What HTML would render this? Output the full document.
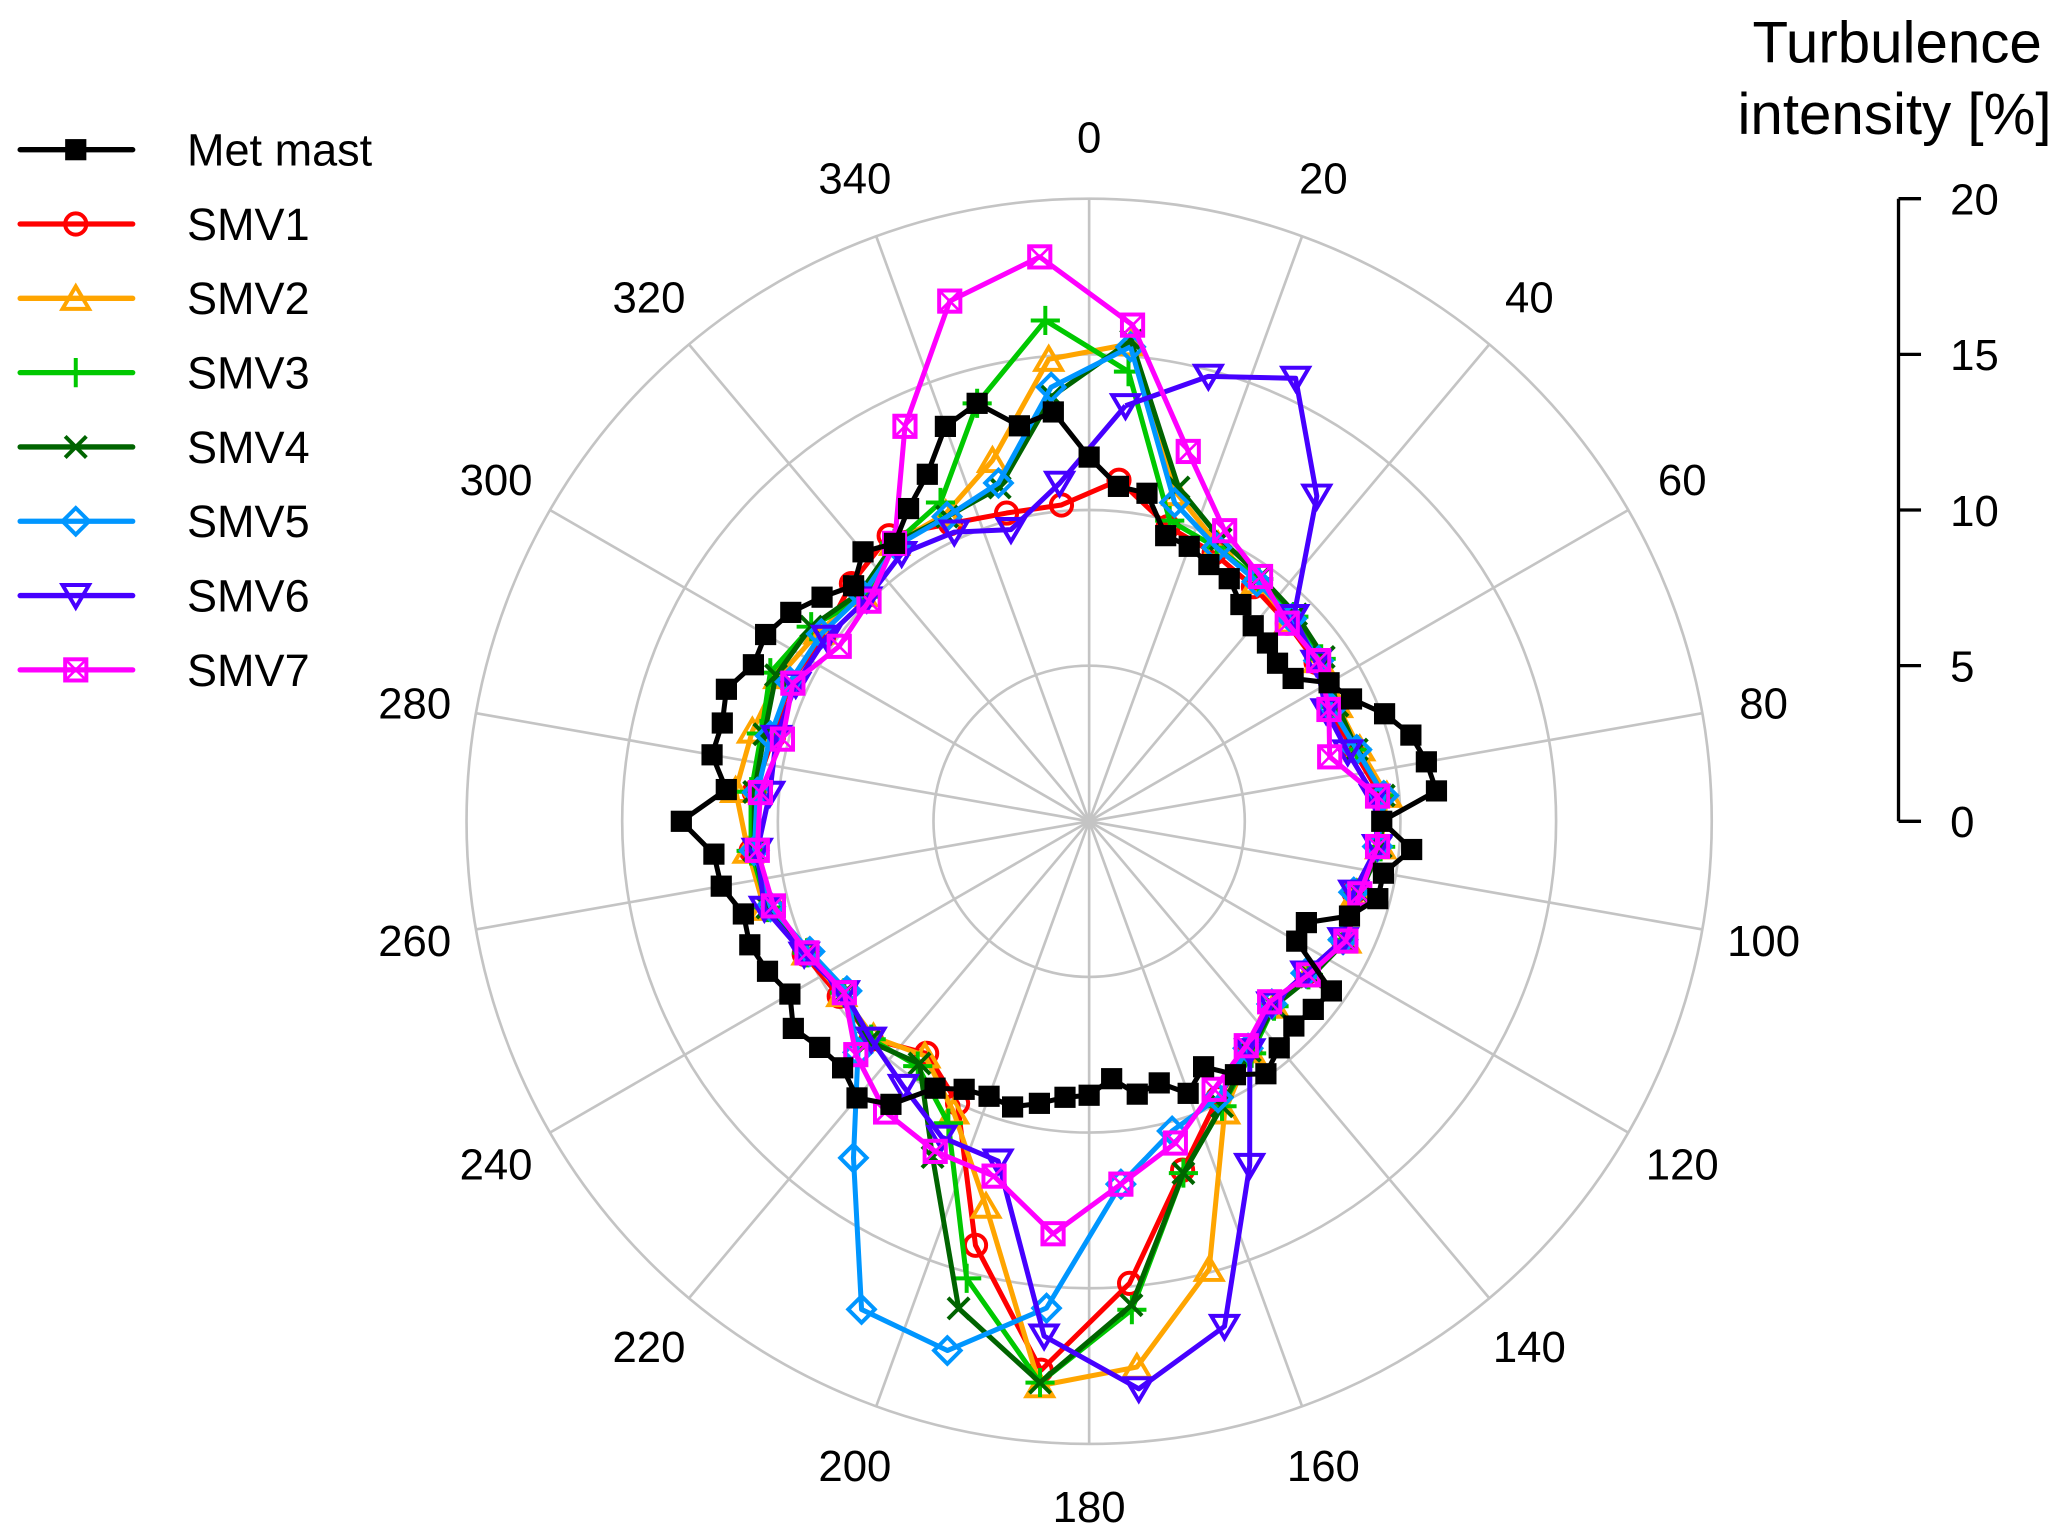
<!DOCTYPE html>
<html><head><meta charset="utf-8"><style>
html,body{margin:0;padding:0;background:#fff;}
svg{display:block;font-family:"Liberation Sans",Arial,sans-serif;}
</style></head><body>
<svg id="chart" width="2067" height="1530" viewBox="0 0 1560 1155" xmlns="http://www.w3.org/2000/svg">
<g id="grid"></g>
<g id="alabels" font-size="33" text-anchor="middle"></g>
<g id="series"></g>
<g id="legend"></g>
<g id="scale">
  <text x="1432" y="47" font-size="44" text-anchor="middle">Turbulence</text>
  <text x="1430" y="101" font-size="44" text-anchor="middle">intensity [%]</text>
</g>
</svg>
<script>
const cx=822, cy=620, R=470, RMAX=20;
const angleTicks=[0,20,40,60,80,100,120,140,160,180,200,220,240,260,280,300,320,340];
const rTicks=[0,5,10,15,20];
const metAngles=[0,5,10,15,20,25,30,35,40,45,50,55,60,65,70,75,80,85,90,95,100,105,110,115,120,125,130,135,140,145,150,155,160,165,170,175,180,185,190,195,200,205,210,215,220,225,230,235,240,245,250,255,260,265,270,275,280,285,290,295,300,305,310,315,320,325,330,335,340,345,350,355];
const metMast=[11.7,10.8,10.7,9.5,9.4,9.1,9.0,8.5,8.2,8.1,7.9,8.0,8.9,9.3,10.1,10.7,11.0,11.2,9.4,10.4,9.6,9.6,8.9,7.7,7.7,9.5,9.4,9.3,9.5,9.9,9.4,8.7,9.3,8.7,8.9,8.3,8.8,8.9,9.2,9.5,9.4,9.5,9.9,11.1,11.6,11.2,11.3,11.6,11.1,11.4,11.6,11.5,12.0,12.1,13.1,11.7,12.3,12.2,12.4,11.9,12.0,11.7,11.2,10.7,11.3,10.9,11.6,12.3,13.5,13.9,12.9,13.2];
const smvAngles=[5,15,25,35,45,55,65,75,85,95,105,115,125,135,145,155,165,175,185,195,205,215,225,235,245,255,265,275,285,295,305,315,325,335,345,355];
const smv1=[11.0,9.8,9.5,9.2,9.0,8.9,8.5,8.8,9.4,9.3,8.8,9.0,8.5,8.3,9.0,9.8,11.6,14.9,17.7,14.1,10.0,9.1,9.9,9.8,10.1,10.6,10.9,10.8,10.5,10.6,10.4,10.8,11.2,10.55,10.25,10.2];
const smv2=[15.4,10.9,9.8,9.4,9.1,9.0,8.8,9.0,9.6,9.4,8.9,9.1,8.6,8.4,9.0,10.3,14.9,17.6,18.2,12.8,10.3,9.2,9.8,9.7,10.0,10.8,11.0,11.4,11.2,11.0,10.6,10.3,10.9,10.9,12.0,14.9];
const smv3=[14.5,10.0,9.7,9.5,9.3,9.1,8.7,8.9,9.5,9.4,8.9,9.0,8.6,8.4,9.1,10.1,11.7,15.75,18.1,15.2,10.7,9.6,9.9,9.6,10.0,10.7,10.9,10.9,10.9,11.3,10.9,10.2,10.9,11.3,13.9,16.15];
const smv4=[15.5,11.1,10.0,9.6,9.4,9.2,8.8,8.9,9.5,9.4,9.0,9.1,8.7,8.4,9.0,10.1,11.7,15.6,18.1,16.2,11.9,9.5,10.0,9.6,10.0,10.7,10.8,10.8,10.8,11.1,10.9,10.4,10.9,10.8,11.1,13.7];
const smv5=[15.3,10.6,9.7,9.4,9.2,9.0,8.6,8.9,9.5,9.3,8.8,9.0,8.5,8.3,8.9,9.8,10.3,11.7,15.7,17.6,17.3,13.2,10.5,9.5,9.9,10.6,10.8,10.7,10.6,10.6,10.5,10.3,10.8,10.8,11.25,14.0];
const smv6=[13.4,14.8,15.7,12.75,9.3,8.9,8.4,8.6,9.2,9.3,8.8,9.0,8.5,8.3,9.0,12.2,16.8,18.3,16.6,11.3,11.2,10.4,9.9,9.6,10.1,10.8,10.7,10.3,10.4,10.4,10.3,10.1,10.5,10.25,9.7,10.9];
const smv7=[16.0,12.3,10.3,9.6,9.0,9.0,8.5,8.0,9.3,9.3,9.0,9.1,8.6,8.2,8.8,9.5,10.7,11.7,13.3,11.8,11.7,11.4,10.6,9.6,10.0,10.5,10.7,10.6,10.2,10.5,9.8,10.0,10.9,14.0,17.3,18.2];
const seriesNames=["Met mast","SMV1","SMV2","SMV3","SMV4","SMV5","SMV6","SMV7"];

const NS="http://www.w3.org/2000/svg";
function rScale(v){return v/RMAX*R;}
function px(a,v){return cx+rScale(v)*Math.sin(a*Math.PI/180);}
function py(a,v){return cy-rScale(v)*Math.cos(a*Math.PI/180);}
function mk(tag,attrs,parent){const e=document.createElementNS(NS,tag);for(const k in attrs)e.setAttribute(k,attrs[k]);parent.appendChild(e);return e;}

const grid=document.getElementById('grid');
rTicks.slice(1).forEach(t=>{
  const c=mk('circle',{cx:cx,cy:cy,r:rScale(t),fill:'none',stroke:'#c4c4c4','stroke-width':2},grid);
  
  
});
const al=document.getElementById('alabels');
angleTicks.forEach(a=>{
  const l=mk('line',{x1:cx,y1:cy,x2:px(a,RMAX),y2:py(a,RMAX),stroke:'#c4c4c4','stroke-width':2},grid);
  
  
  const rr=RMAX*1.1;
  const t=mk('text',{x:px(a,rr),y:py(a,rr)+12},al);
  t.textContent=a;
  
  
});

function marker(type,x,y,col,g){
  const s=8;
  if(type==='sq'){mk('rect',{x:x-s,y:y-s,width:2*s,height:2*s,fill:'#000'},g);}
  else if(type==='circ'){mk('circle',{cx:x,cy:y,r:s,fill:'none',stroke:col,'stroke-width':3},g);}
  else if(type==='tri'){mk('polygon',{points:`${x},${y-s-1} ${x-s-2},${y+s} ${x+s+2},${y+s}`,fill:'none',stroke:col,'stroke-width':3},g);}
  else if(type==='plus'){mk('path',{d:`M${x-s-3},${y}H${x+s+3}M${x},${y-s-3}V${y+s+3}`,stroke:col,'stroke-width':3},g);}
  else if(type==='x'){mk('path',{d:`M${x-s},${y-s}L${x+s},${y+s}M${x-s},${y+s}L${x+s},${y-s}`,stroke:col,'stroke-width':3},g);}
  else if(type==='dia'){mk('polygon',{points:`${x},${y-s-2} ${x+s+2},${y} ${x},${y+s+2} ${x-s-2},${y}`,fill:'none',stroke:col,'stroke-width':3},g);}
  else if(type==='tdn'){mk('polygon',{points:`${x-s-2},${y-s} ${x+s+2},${y-s} ${x},${y+s+1}`,fill:'none',stroke:col,'stroke-width':3},g);}
  else if(type==='sqx'){mk('rect',{x:x-s,y:y-s,width:2*s,height:2*s,fill:'none',stroke:col,'stroke-width':3},g);mk('path',{d:`M${x-s},${y-s}L${x+s},${y+s}M${x-s},${y+s}L${x+s},${y-s}`,stroke:col,'stroke-width':2},g);}
}

const defs=[
 {name:'smv1',vals:smv1,ang:smvAngles,col:'#ff0000',m:'circ'},
 {name:'smv2',vals:smv2,ang:smvAngles,col:'#ffa500',m:'tri'},
 {name:'smv3',vals:smv3,ang:smvAngles,col:'#00c800',m:'plus'},
 {name:'smv4',vals:smv4,ang:smvAngles,col:'#006400',m:'x'},
 {name:'smv5',vals:smv5,ang:smvAngles,col:'#0096ff',m:'dia'},
 {name:'smv6',vals:smv6,ang:smvAngles,col:'#4600ff',m:'tdn'},
 {name:'smv7',vals:smv7,ang:smvAngles,col:'#ff00ff',m:'sqx'},
 {name:'met-mast',vals:metMast,ang:metAngles,col:'#000000',m:'sq'}
];
const sl=document.getElementById('series');
defs.forEach(d=>{
  const g=mk('g',{},sl);
  
  
  let pts=d.vals.map((v,i)=>px(d.ang[i],v).toFixed(1)+','+py(d.ang[i],v).toFixed(1));
  pts.push(pts[0]);
  const pl=mk('polyline',{points:pts.join(' '),fill:'none',stroke:d.col,'stroke-width':3.8,'stroke-linejoin':'round'},g);
  
  
  d.vals.forEach((v,i)=>marker(d.m,px(d.ang[i],v),py(d.ang[i],v),d.col,g));
});

const lg=document.getElementById('legend');
const legOrder=[defs[7],defs[0],defs[1],defs[2],defs[3],defs[4],defs[5],defs[6]];
legOrder.forEach((d,i)=>{
  const y=113+i*56.1;
  const g=mk('g',{},lg);
  
  
  mk('line',{x1:15,y1:y,x2:100,y2:y,stroke:d.col,'stroke-width':4,'stroke-linecap':'round'},g);
  marker(d.m,57,y,d.col,g);
  const t=mk('text',{x:141,y:y+12,'font-size':34},g);
  t.textContent=seriesNames[i];
});

const sc=document.getElementById('scale');
const sx=1433, sy0=620;
mk('line',{x1:sx,y1:sy0-rScale(20),x2:sx,y2:sy0,stroke:'#000','stroke-width':2.5},sc);
rTicks.forEach(t=>{
  const y=sy0-rScale(t);
  mk('line',{x1:sx,y1:y,x2:sx+17,y2:y,stroke:'#000','stroke-width':2.5},sc);
  const tx=mk('text',{x:1472,y:y+12,'font-size':33},sc);
  tx.textContent=t;
  
  
});
</script>
</body></html>
